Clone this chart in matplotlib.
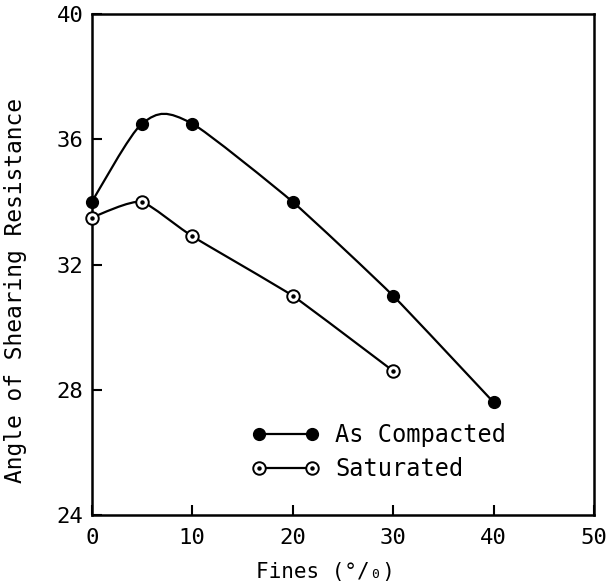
import numpy as np
import matplotlib
matplotlib.use("Agg")
import matplotlib.pyplot as plt
from matplotlib.path import Path
from matplotlib.patches import PathPatch
from matplotlib.lines import Line2D

# data
fines_compacted = [0, 5, 10, 20, 30, 40]
phi_compacted = [34.0, 36.5, 36.5, 34.0, 31.0, 27.6]
fines_saturated = [0, 5, 10, 20, 30]
phi_saturated = [33.5, 34.0, 32.9, 31.0, 28.6]
x_ticks = [0, 10, 20, 30, 40, 50]
y_ticks = [24, 28, 32, 36, 40]

plt.rcParams['font.family'] = ['DejaVu Sans Mono', 'DejaVu Sans']


def smooth_path(xs, ys, tension):
    # Catmull-Rom curve through the points, as cubic Bezier pieces
    # (one tension value per segment)
    pts = np.column_stack([xs, ys]).astype(float)
    verts = [pts[0]]
    codes = [Path.MOVETO]
    n = len(pts)
    for i in range(n - 1):
        t = tension[i]
        p0 = pts[i - 1] if i > 0 else pts[i]
        p1 = pts[i]
        p2 = pts[i + 1]
        p3 = pts[i + 2] if i + 2 < n else pts[i + 1]
        c1 = p1 + t * (p2 - p0) / 6.0
        c2 = p2 - t * (p3 - p1) / 6.0
        verts += [c1, c2, p2]
        codes += [Path.CURVE4] * 3
    return Path(verts, codes)


fig = plt.figure(figsize=(6.08, 5.83), dpi=100)
ax = fig.add_axes([0.151, 0.1166, 0.826, 0.8594])

ax.add_patch(PathPatch(smooth_path(fines_compacted, phi_compacted,
                                   [0.7, 1.0, 0.5, 0.5, 0.5]),
                       fill=False, lw=1.6, color="black", zorder=2))
ax.add_patch(PathPatch(smooth_path(fines_saturated, phi_saturated,
                                   [0.7, 0.4, 0.4, 0.4]),
                       fill=False, lw=1.6, color="black", zorder=2))

ax.plot(fines_compacted, phi_compacted, ls="none", marker="o", ms=8.5,
        mfc="black", mec="black", zorder=3, clip_on=False)
ax.plot(fines_saturated, phi_saturated, ls="none", marker="o", ms=9,
        mfc="white", mec="black", mew=1.4, zorder=3, clip_on=False)
ax.plot(fines_saturated, phi_saturated, ls="none", marker="o", ms=2.2,
        mfc="black", mec="black", zorder=4, clip_on=False)

# legend
h1 = Line2D([], [], color="black", lw=1.6, marker="o", ms=8.5, mfc="black")
h2a = Line2D([], [], color="black", lw=1.6, marker="o", ms=9, mfc="white", mew=1.4)
h2b = Line2D([], [], ls="none", marker="o", ms=2.2, mfc="black", mec="black")
ax.legend([h1, (h2a, h2b)], ["As Compacted", "Saturated"], numpoints=2,
          frameon=False, fontsize=17, loc="lower left", borderpad=0,
          bbox_to_anchor=(0.295, 0.044), handlelength=2.85, handletextpad=0.68,
          labelspacing=0.41)

ax.set_xlim(0, 50)
ax.set_ylim(24, 40)
ax.set_xticks(x_ticks)
ax.set_yticks(y_ticks)
ax.tick_params(direction="in", length=7, width=1.5, labelsize=16)
ax.tick_params(axis="x", pad=9)
ax.tick_params(axis="y", pad=6)
for s in ax.spines.values():
    s.set_linewidth(1.8)

ax.set_xlabel("Fines (°/₀)", fontsize=15)
ax.set_ylabel("Angle of Shearing Resistance", fontsize=16.5)
ax.xaxis.set_label_coords(0.465, -0.093)
ax.yaxis.set_label_coords(-0.129, 0.449)

fig.savefig("out.png", dpi=100)
